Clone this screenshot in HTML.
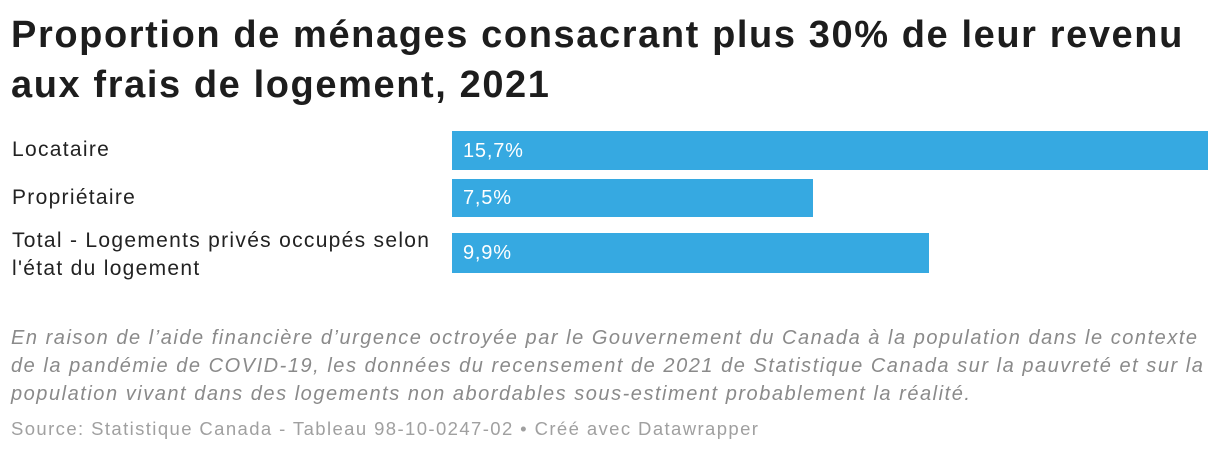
<!DOCTYPE html>
<html><head><meta charset="utf-8">
<style>
body{margin:0;width:1220px;height:454px;background:#fff;font-family:"Liberation Sans",sans-serif;overflow:hidden;position:relative}
#title{position:absolute;left:11px;top:10px;width:1215px;font-size:38px;font-weight:bold;line-height:50px;color:#1d1d1d;letter-spacing:1.6px;white-space:nowrap}
.lab{position:absolute;left:12px;font-size:21px;color:#222;line-height:28px;width:440px;letter-spacing:1.3px;white-space:nowrap}
.bar{position:absolute;left:452px;background:#36a9e1}
.val{position:absolute;left:463px;font-size:20px;color:#fff;line-height:28px;letter-spacing:0.8px}
#note{position:absolute;left:11px;top:324px;width:1215px;font-size:20px;font-style:italic;color:#8a8a8a;line-height:28px;white-space:nowrap;letter-spacing:1.53px}
#src{position:absolute;left:11px;top:418px;font-size:18.5px;color:#a0a0a0;letter-spacing:1.4px;white-space:nowrap}
</style></head><body>
<div id="title">Proportion de ménages consacrant plus 30% de leur revenu<br>aux frais de logement, 2021</div>
<div id="chart"></div>
<div id="note">En raison de l’aide financière d’urgence octroyée par le Gouvernement du Canada à la population dans le contexte<br>de la pandémie de COVID-19, les données du recensement de 2021 de Statistique Canada sur la pauvreté et sur la<br>population vivant dans des logements non abordables sous-estiment probablement la réalité.</div>
<div id="src">Source: Statistique Canada - Tableau 98-10-0247-02 • Créé avec Datawrapper</div>
<script>
const categories=["Locataire","Propriétaire","Total - Logements privés occupés selon\nl'état du logement"];
const values=[15.7,7.5,9.9];
const labels=["15,7%","7,5%","9,9%"];
const maxV=15.7,x0=452,x1=1208;
const tops=[131,179,233],heights=[39,38,40];
function xs(v){return (v/maxV)*(x1-x0);}
const c=document.getElementById('chart');
categories.forEach((cat,i)=>{
  const l=document.createElement('div');l.className='lab';
  
  
  l.style.whiteSpace='pre';
  l.textContent=cat;
  l.style.top=(i==2?tops[i]-6:tops[i]+5)+'px';
  c.appendChild(l);
  const b=document.createElement('div');b.className='bar';
  
  
  b.style.top=tops[i]+'px';b.style.height=heights[i]+'px';b.style.width=xs(values[i])+'px';
  c.appendChild(b);
  const v=document.createElement('div');v.className='val';
  
  
  v.textContent=labels[i];
  v.style.top=(tops[i]+heights[i]/2-14)+'px';
  c.appendChild(v);
});
</script>
</body></html>
